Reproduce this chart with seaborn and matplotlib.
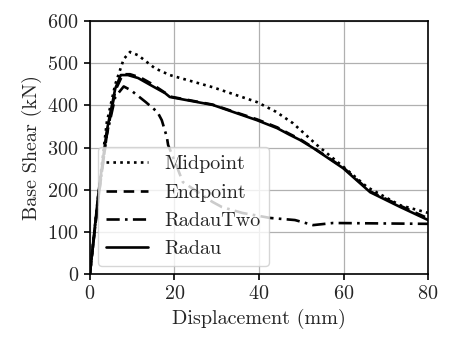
import pandas as pd
import matplotlib
matplotlib.use('Agg')
import matplotlib.pyplot as plt
import seaborn as sns

# Displacement (mm) / base shear (kN)
mid_x = [0, 2, 4, 6, 8, 9.5, 11.4, 15.4, 18.9, 29.1, 39.5, 44, 48, 53.7, 60, 65.6, 73.4, 80]
mid_y = [0, 190, 360, 450, 510, 527, 519, 488, 472, 443, 408, 385, 358, 306, 254, 206, 163, 145]

end_x = [0, 2, 4, 6, 7.8, 9.5, 12, 14.5, 17.8, 19, 29, 39.5, 44.3, 47.3, 49.7, 52.8, 60, 66.3, 73.4, 80]
end_y = [0, 180, 330, 435, 474, 474, 466, 452, 430, 421, 402, 367, 348, 332, 320, 300, 252, 196, 162, 132]

rt_x = [0, 2, 4, 6, 8, 9.7, 13.2, 16, 17, 18.2, 18.5, 20.6, 22, 25.6, 29, 31.2, 36, 42.6, 48.5,
        52.8, 57.5, 80]
rt_y = [0, 180, 330, 420, 445, 436, 408, 384, 365, 325, 306, 254, 218, 194, 171, 159, 145, 133, 128,
        116, 121, 119]

rad_x = [0, 2, 4, 6, 7.3, 9, 11.4, 14.4, 17.8, 18.9, 29.1, 39.5, 44.3, 47.3, 49.7, 52.8, 59.9,
         66.3, 73.4, 80]
rad_y = [0, 190, 340, 440, 472, 472, 465, 448, 429, 420, 401, 365, 346, 330, 318, 299, 251,
         194, 159, 128]

series = [
    ('Midpoint', mid_x, mid_y, (0, (1, 1.6))),
    ('Endpoint', end_x, end_y, (0, (4, 2.5))),
    ('RadauTwo', rt_x, rt_y, (0, (5, 2, 1, 2))),
    ('Radau', rad_x, rad_y, '-'),
]

sns.set_style('whitegrid')
plt.rcParams['font.family'] = ['cmr10', 'DejaVu Serif']
plt.rcParams['mathtext.fontset'] = 'cm'
plt.rcParams['axes.formatter.use_mathtext'] = True
plt.rcParams['font.size'] = 14.5

fig, ax = plt.subplots(figsize=(4.54, 3.52), dpi=100)
fig.subplots_adjust(left=0.198, right=0.943, top=0.940, bottom=0.2216)

for name, xs, ys, ls in series:
    df = pd.DataFrame({'x': xs, 'y': ys})
    sns.lineplot(data=df, x='x', y='y', ax=ax, color='black', linewidth=1.9,
                 linestyle=ls, label=name, sort=False)

ax.set_xlim(0, 80)
ax.set_ylim(0, 600)
ax.set_xticks([0, 20, 40, 60, 80])
ax.set_yticks([0, 100, 200, 300, 400, 500, 600])
ax.set_xlabel('Displacement (mm)', fontsize=14.5)
ax.set_ylabel('Base Shear (kN)', fontsize=14.5)
ax.grid(True, color='#b0b0b0', linewidth=0.9)
for s in ax.spines.values():
    s.set_color('black')
    s.set_linewidth(1.2)
ax.tick_params(axis='both', which='major', direction='out', length=4, width=1.2,
               color='black', labelsize=14.5, bottom=True, left=True, pad=4)

leg = ax.legend(loc='lower left', handlelength=2.1, frameon=True, fontsize=14.5,
                borderaxespad=0.4)
leg.get_frame().set_alpha(0.8)
leg.get_frame().set_edgecolor('#cccccc')

fig.savefig('out.png', dpi=100)
